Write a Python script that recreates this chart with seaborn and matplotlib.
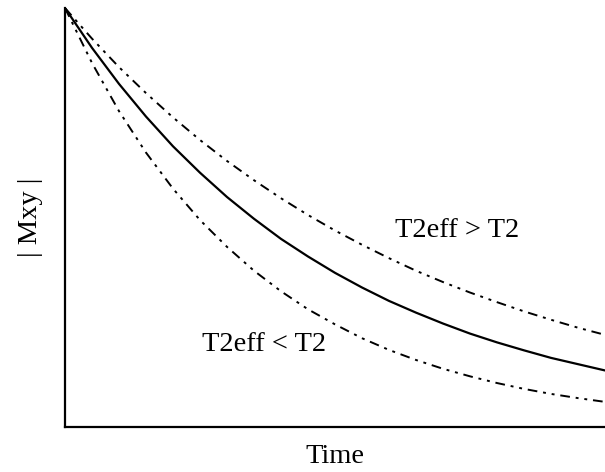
import numpy as np
import pandas as pd
import matplotlib
matplotlib.use("Agg")
import matplotlib.pyplot as plt
import seaborn as sns

time = [0.00, 0.05, 0.10, 0.15, 0.20, 0.25, 0.30, 0.35, 0.40, 0.45, 0.50,
        0.55, 0.60, 0.65, 0.70, 0.75, 0.80, 0.85, 0.90, 0.95, 1.00]
mxy_t2 = [1.000, 0.905, 0.819, 0.741, 0.670, 0.607, 0.549, 0.497, 0.449, 0.407, 0.368,
          0.333, 0.301, 0.273, 0.247, 0.223, 0.202, 0.183, 0.165, 0.150, 0.135]
mxy_longer = [1.000, 0.927, 0.859, 0.797, 0.739, 0.685, 0.635, 0.589, 0.546, 0.506, 0.469,
              0.435, 0.403, 0.373, 0.346, 0.321, 0.298, 0.276, 0.256, 0.237, 0.220]
mxy_shorter = [1.000, 0.869, 0.754, 0.655, 0.569, 0.494, 0.430, 0.373, 0.324, 0.281, 0.245,
               0.212, 0.184, 0.160, 0.139, 0.121, 0.105, 0.091, 0.079, 0.069, 0.060]
label_longer = "T2eff > T2"
label_shorter = "T2eff < T2"
x_label = "Time"
y_label = "| Mxy |"

sns.set_theme(style="white")
plt.rcParams['font.family'] = ['Liberation Serif', 'DejaVu Serif']
plt.rcParams['text.color'] = 'black'
plt.rcParams['axes.labelcolor'] = 'black'

fig = plt.figure(figsize=(6.05, 4.72), dpi=100)
ax = fig.add_axes([0.1074, 0.0953, 0.8926, 0.8877])

dashdot = (0, (5, 3, 1.5, 3, 1.5, 3))
sns.lineplot(x=time, y=mxy_t2, ax=ax, color="black", linewidth=1.6)
sns.lineplot(x=time, y=mxy_longer, ax=ax, color="black", linewidth=1.4, linestyle=dashdot)
sns.lineplot(x=time, y=mxy_shorter, ax=ax, color="black", linewidth=1.4, linestyle=dashdot)

ax.text(0.611, 0.47, label_longer, fontsize=20.5, va="center", ha="left", color="black")
ax.text(0.254, 0.196, label_shorter, fontsize=20.5, va="center", ha="left", color="black")

ax.set_xlim(0, 1)
ax.set_ylim(0, 1)
ax.set_xticks([])
ax.set_yticks([])
ax.set_xlabel(x_label, fontsize=20.5, labelpad=12)
ax.set_ylabel(y_label, fontsize=20.5, labelpad=16)

for side in ["top", "right"]:
    ax.spines[side].set_visible(False)
for side in ["left", "bottom"]:
    ax.spines[side].set_color("black")
    ax.spines[side].set_linewidth(1.6)

fig.savefig("out.png", dpi=100)
